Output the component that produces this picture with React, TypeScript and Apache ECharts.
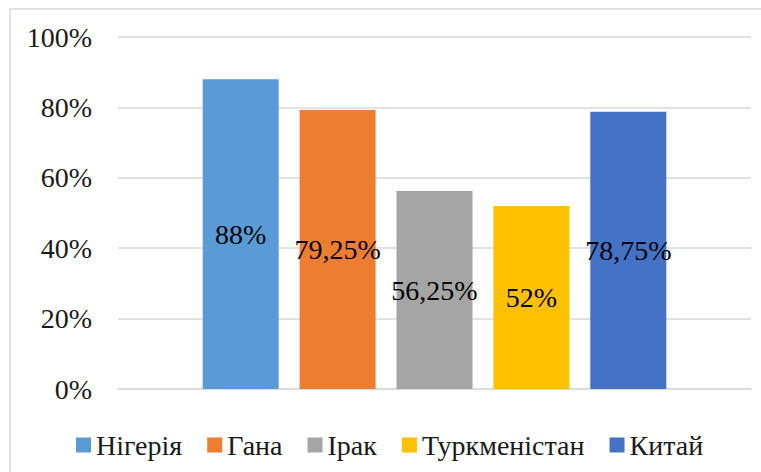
import React, { useEffect, useRef } from "react";
import * as echarts from "echarts";

const countries = ["Нігерія", "Гана", "Ірак", "Туркменістан", "Китай"];
const values = [88, 79.25, 56.25, 52, 78.75];
const colors = ["#5B9BD5", "#ED7D31", "#A5A5A5", "#FFC000", "#4472C4"];
const yTicks = [0, 20, 40, 60, 80, 100];

const FONT = "Times New Roman";
const FS = 28;

export default function App() {
  const ref = useRef<HTMLDivElement>(null);
  useEffect(() => {
    document.body.style.margin = "0";
    const chart = echarts.init(ref.current!, null, { renderer: "svg" });
    chart.setOption({
      animation: false,
      textStyle: { fontFamily: FONT },
      graphic: [
        {
          type: "rect",
          shape: { x: 10, y: 9, width: 800, height: 500 },
          style: { fill: "none", stroke: "#d9d9d9", lineWidth: 1.5 },
          silent: true,
          z: -10,
        },
      ],
      grid: { left: 118, right: 10, top: 37, bottom: 83 },
      legend: {
        data: countries,
        left: 71,
        top: 426,
        itemWidth: 15,
        itemHeight: 15,
        itemGap: 25,
        icon: "rect",
        textStyle: { fontFamily: FONT, fontSize: FS, color: "#1a1a1a" },
      },
      xAxis: {
        type: "category",
        data: [""],
        axisLine: { show: true, lineStyle: { color: "#d9d9d9", width: 1.5 } },
        axisTick: { show: false },
        axisLabel: { show: false },
      },
      yAxis: {
        type: "value",
        min: yTicks[0],
        max: yTicks[yTicks.length - 1],
        interval: 20,
        axisLine: { show: false },
        axisTick: { show: false },
        splitLine: { lineStyle: { color: "#d9d9d9", width: 1.5 } },
        axisLabel: {
          margin: 26,
          fontFamily: FONT,
          fontSize: FS,
          color: "#1a1a1a",
          formatter: (v: number) => `${v}%`,
        },
      },
      series: countries.map((name, i) => ({
        name,
        type: "bar",
        data: [values[i]],
        barWidth: 76,
        barGap: "27.5%",
        itemStyle: { color: colors[i] },
        label: {
          show: true,
          position: "inside",
          fontFamily: FONT,
          fontSize: FS,
          color: "#000000",
          formatter: () => `${String(values[i]).replace(".", ",")}%`,
        },
      })),
    });
    return () => chart.dispose();
  }, []);
  return (
    <div
      ref={ref}
      style={{ position: "absolute", left: 0, top: 0, width: 761, height: 472, background: "#ffffff" }}
    />
  );
}
